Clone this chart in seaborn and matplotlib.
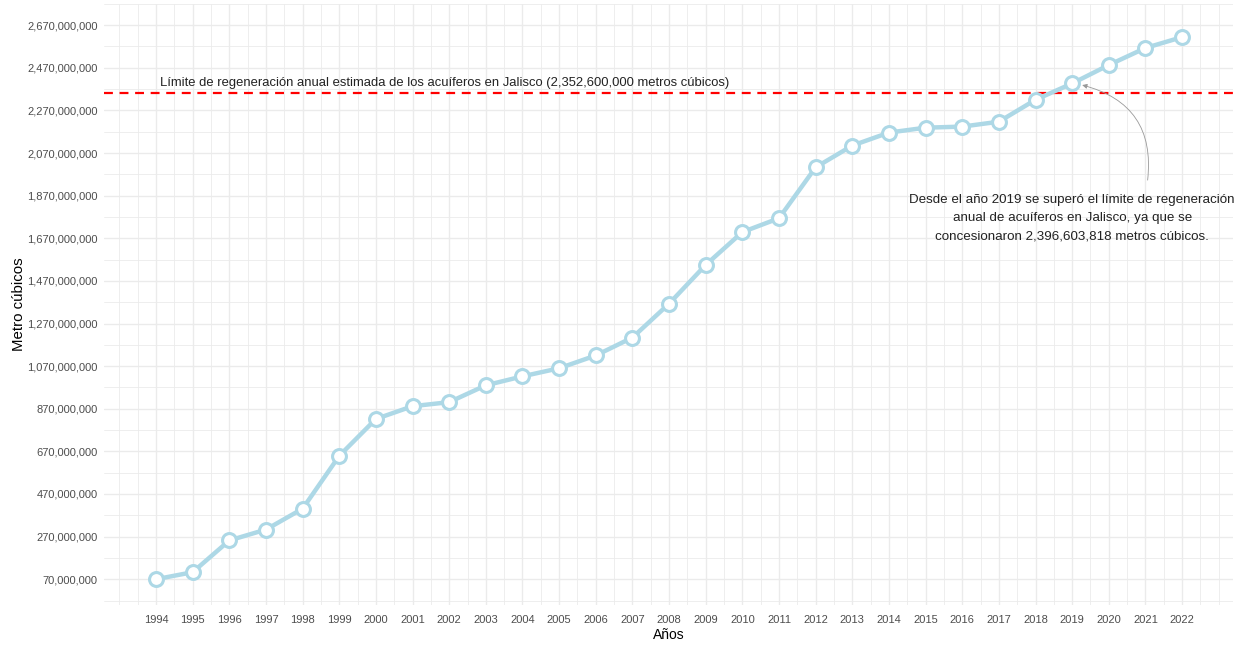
import numpy as np
import pandas as pd
import seaborn as sns
import matplotlib.pyplot as plt
from matplotlib.ticker import FuncFormatter, MultipleLocator

# volumen concesionado acumulado (m3) por año
years = list(range(1994, 2023))
volumes = [70e6, 103e6, 252e6, 303e6, 401e6, 649e6, 822e6, 882e6, 901e6, 980e6,
           1022e6, 1060e6, 1120e6, 1204e6, 1363e6, 1545e6, 1699e6, 1764e6, 2003e6,
           2105e6, 2166e6, 2189e6, 2194e6, 2217e6, 2320e6, 2396603818, 2483e6,
           2563e6, 2614e6]
limite = 2352600000
y_ticks = list(range(70000000, 2670000001, 200000000))
y_minor = list(range(-30000000, 2770000001, 200000000))

df = pd.DataFrame({'Año': years, 'Volumen': volumes})

sns.set_theme(style='white')
plt.rcParams['font.family'] = ['Liberation Sans', 'DejaVu Sans']

fig = plt.figure(figsize=(12.38, 6.45), dpi=100)
ax = fig.add_axes([0.084, 0.062, 0.912, 0.932])

sns.lineplot(data=df, x='Año', y='Volumen', ax=ax, color='#ADD8E6', linewidth=3.2,
             marker='o', markersize=10, markerfacecolor='white',
             markeredgecolor='#ADD8E6', markeredgewidth=2.2, zorder=3)

ax.axhline(limite, color='red', linestyle=(0, (4, 3)), linewidth=1.6, zorder=2)
ax.text(1994.1, 2400e6, 'Límite de regeneración anual estimada de los acuíferos en Jalisco '
        '(2,352,600,000 metros cúbicos)', fontsize=9.4, color='#222222',
        va='center', ha='left')

# anotación 2019
ax.annotate('', xy=(2019.2, 2392e6), xytext=(2021.05, 1930e6),
            arrowprops=dict(arrowstyle='-|>', color='#999999', lw=0.6,
                            mutation_scale=7,
                            connectionstyle='arc3,rad=0.45'))
ax.text(2019.0, 1764e6, 'Desde el año 2019 se superó el límite de regeneración\n'
        'anual de acuíferos en Jalisco, ya que se\n'
        'concesionaron 2,396,603,818 metros cúbicos.',
        fontsize=9.6, color='#222222', ha='center', va='center',
        linespacing=1.7)

ax.set_xlim(1992.58, 2023.39)
ax.set_ylim(-51e6, 2740e6)
ax.set_xticks(years)
ax.set_yticks(y_ticks)
ax.xaxis.set_minor_locator(MultipleLocator(0.5))
ax.set_yticks(y_minor, minor=True)
ax.yaxis.set_major_formatter(FuncFormatter(lambda v, p: f'{int(v):,}'))

ax.grid(which='major', color='#EBEBEB', linewidth=1.0)
ax.grid(which='minor', color='#EBEBEB', linewidth=0.6)
ax.tick_params(which='both', length=0, labelsize=8, labelcolor='#4D4D4D')
ax.tick_params(axis='y', pad=4.5)
ax.tick_params(axis='x', pad=7)
for s in ax.spines.values():
    s.set_visible(False)

ax.set_xlabel('Años', fontsize=10, color='black', labelpad=2)
ax.set_ylabel('Metro cúbicos', fontsize=10.8, color='black', labelpad=1)

fig.savefig('out.png', dpi=100)
